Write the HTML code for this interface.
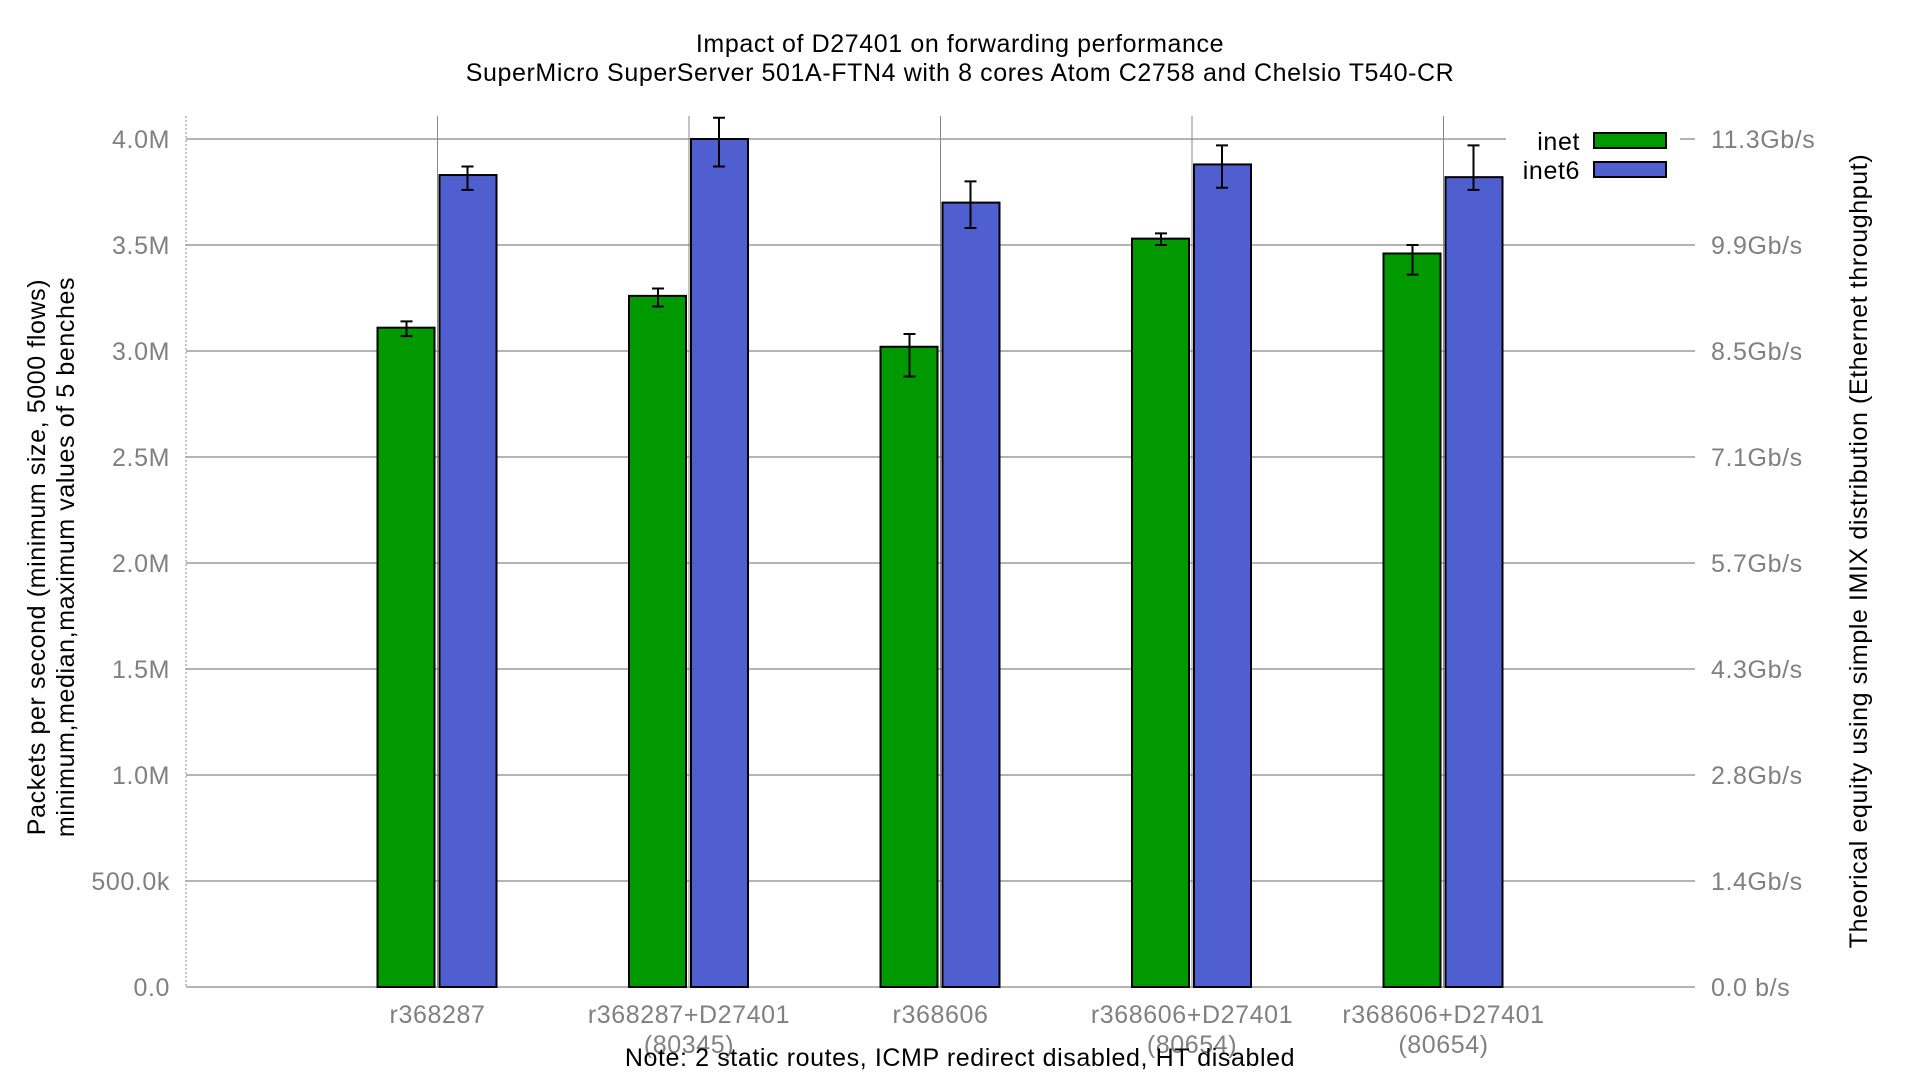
<!DOCTYPE html>
<html><head><meta charset="utf-8"><title>Impact of D27401</title>
<style>
html,body{margin:0;padding:0;background:#fff;}
svg{display:block;font-family:"Liberation Sans",sans-serif;}
text{letter-spacing:0.6px;}
</style></head>
<body>
<svg id="chart" width="1920" height="1080" viewBox="0 0 1920 1080" xmlns="http://www.w3.org/2000/svg">
<text x="960" y="52" text-anchor="middle" font-size="25" fill="#000">Impact of D27401 on forwarding performance</text>
<text x="960" y="81" text-anchor="middle" font-size="25" fill="#000">SuperMicro SuperServer 501A-FTN4 with 8 cores Atom C2758 and Chelsio T540-CR</text>
<g id="grid"></g>
<g id="bars"></g>
<g id="labels"></g>
<text transform="translate(45,557) rotate(-90)" text-anchor="middle" font-size="25" fill="#000">Packets per second (minimum size, 5000 flows)</text>
<text transform="translate(74,557) rotate(-90)" text-anchor="middle" font-size="25" fill="#000">minimum,median,maximum values of 5 benches</text>
<text transform="translate(1867,551) rotate(-90)" text-anchor="middle" font-size="25" fill="#000">Theorical equity using simple IMIX distribution (Ethernet throughput)</text>
<text x="960" y="1066" text-anchor="middle" font-size="25" fill="#000">Note: 2 static routes, ICMP redirect disabled, HT disabled</text>
<g>
<text x="1580" y="150" text-anchor="end" font-size="25" fill="#000">inet</text>
<rect x="1594" y="133" width="72" height="15" fill="#009900" stroke="#000" stroke-width="2"/>
<text x="1580" y="179" text-anchor="end" font-size="25" fill="#000">inet6</text>
<rect x="1594" y="162" width="72" height="15" fill="#4f5fcf" stroke="#000" stroke-width="2"/>
</g>
</svg>
<script>
const categories = ["r368287","r368287+D27401|(80345)","r368606","r368606+D27401|(80654)","r368606+D27401|(80654)"];
const inetMedian = [3.11,3.26,3.02,3.53,3.46];
const inetMin = [3.07,3.21,2.88,3.50,3.36];
const inetMax = [3.14,3.295,3.08,3.555,3.50];
const inet6Median = [3.83,4.00,3.70,3.88,3.82];
const inet6Min = [3.76,3.87,3.58,3.77,3.76];
const inet6Max = [3.87,4.10,3.80,3.97,3.97];
const yTicks = [0,0.5,1.0,1.5,2.0,2.5,3.0,3.5,4.0];
const yTickLabels = ["0.0","500.0k","1.0M","1.5M","2.0M","2.5M","3.0M","3.5M","4.0M"];
const y2TickLabels = ["0.0 b/s","1.4Gb/s","2.8Gb/s","4.3Gb/s","5.7Gb/s","7.1Gb/s","8.5Gb/s","9.9Gb/s","11.3Gb/s"];

const NS="http://www.w3.org/2000/svg";
const plotLeft=186, plotRight=1695, plotTop=116, base=987, pxPerM=212;
const yScale = v => base - v*pxPerM;
const x0 = 437.5, step = 251.5;
const xc = i => x0 + i*step;
function mk(tag, attrs, parent){const e=document.createElementNS(NS,tag);for(const k in attrs)e.setAttribute(k,attrs[k]);parent.appendChild(e);return e;}
const grid=document.getElementById('grid'), bars=document.getElementById('bars'), labels=document.getElementById('labels');

let ax=mk('line',{x1:plotLeft,y1:plotTop,x2:plotLeft,y2:base,stroke:'#888','stroke-width':1,'stroke-dasharray':'2,2'},grid);



yTicks.forEach((t,i)=>{
  const yy=yScale(t);
  const x2 = (i===yTicks.length-1)?1506:plotRight;
  let g=mk('line',{x1:plotLeft,y1:yy,x2:x2,y2:yy,stroke:'#888','stroke-width':1.3},grid);
  
  
  if(i===yTicks.length-1){
    let tk=mk('line',{x1:1680,y1:yy,x2:plotRight,y2:yy,stroke:'#888','stroke-width':1.3},grid);
    
    
  }
  let l=mk('text',{x:170,y:yy+9,'text-anchor':'end','font-size':25,fill:'#808080'},labels);
  l.textContent=yTickLabels[i];
  
  
  let r=mk('text',{x:1711,y:yy+9,'text-anchor':'start','font-size':25,fill:'#808080'},labels);
  r.textContent=y2TickLabels[i];
  
  
});

function errbar(cx,lo,hi){
  const a=mk('path',{d:`M${cx},${yScale(hi)}V${yScale(lo)}M${cx-6},${yScale(hi)}H${cx+6}M${cx-6},${yScale(lo)}H${cx+6}`,stroke:'#000','stroke-width':2,fill:'none'},bars);
  
  
}

categories.forEach((c,i)=>{
  const cx=xc(i);
  let v=mk('line',{x1:cx,y1:plotTop,x2:cx,y2:base,stroke:'#888','stroke-width':1},grid);
  
  
  let g=mk('rect',{x:cx-60,y:yScale(inetMedian[i]),width:57,height:base-yScale(inetMedian[i]),fill:'#009900',stroke:'#000','stroke-width':2},bars);
  
  
  let b=mk('rect',{x:cx+2,y:yScale(inet6Median[i]),width:57,height:base-yScale(inet6Median[i]),fill:'#4f5fcf',stroke:'#000','stroke-width':2},bars);
  
  
  errbar(cx-31,inetMin[i],inetMax[i]);
  errbar(cx+30,inet6Min[i],inet6Max[i]);
  c.split('|').forEach((line,k)=>{
    let t=mk('text',{x:cx,y:1023+k*30,'text-anchor':'middle','font-size':25,fill:'#808080'},labels);
    t.textContent=line;
    
    
  });
});
</script>
</body></html>
